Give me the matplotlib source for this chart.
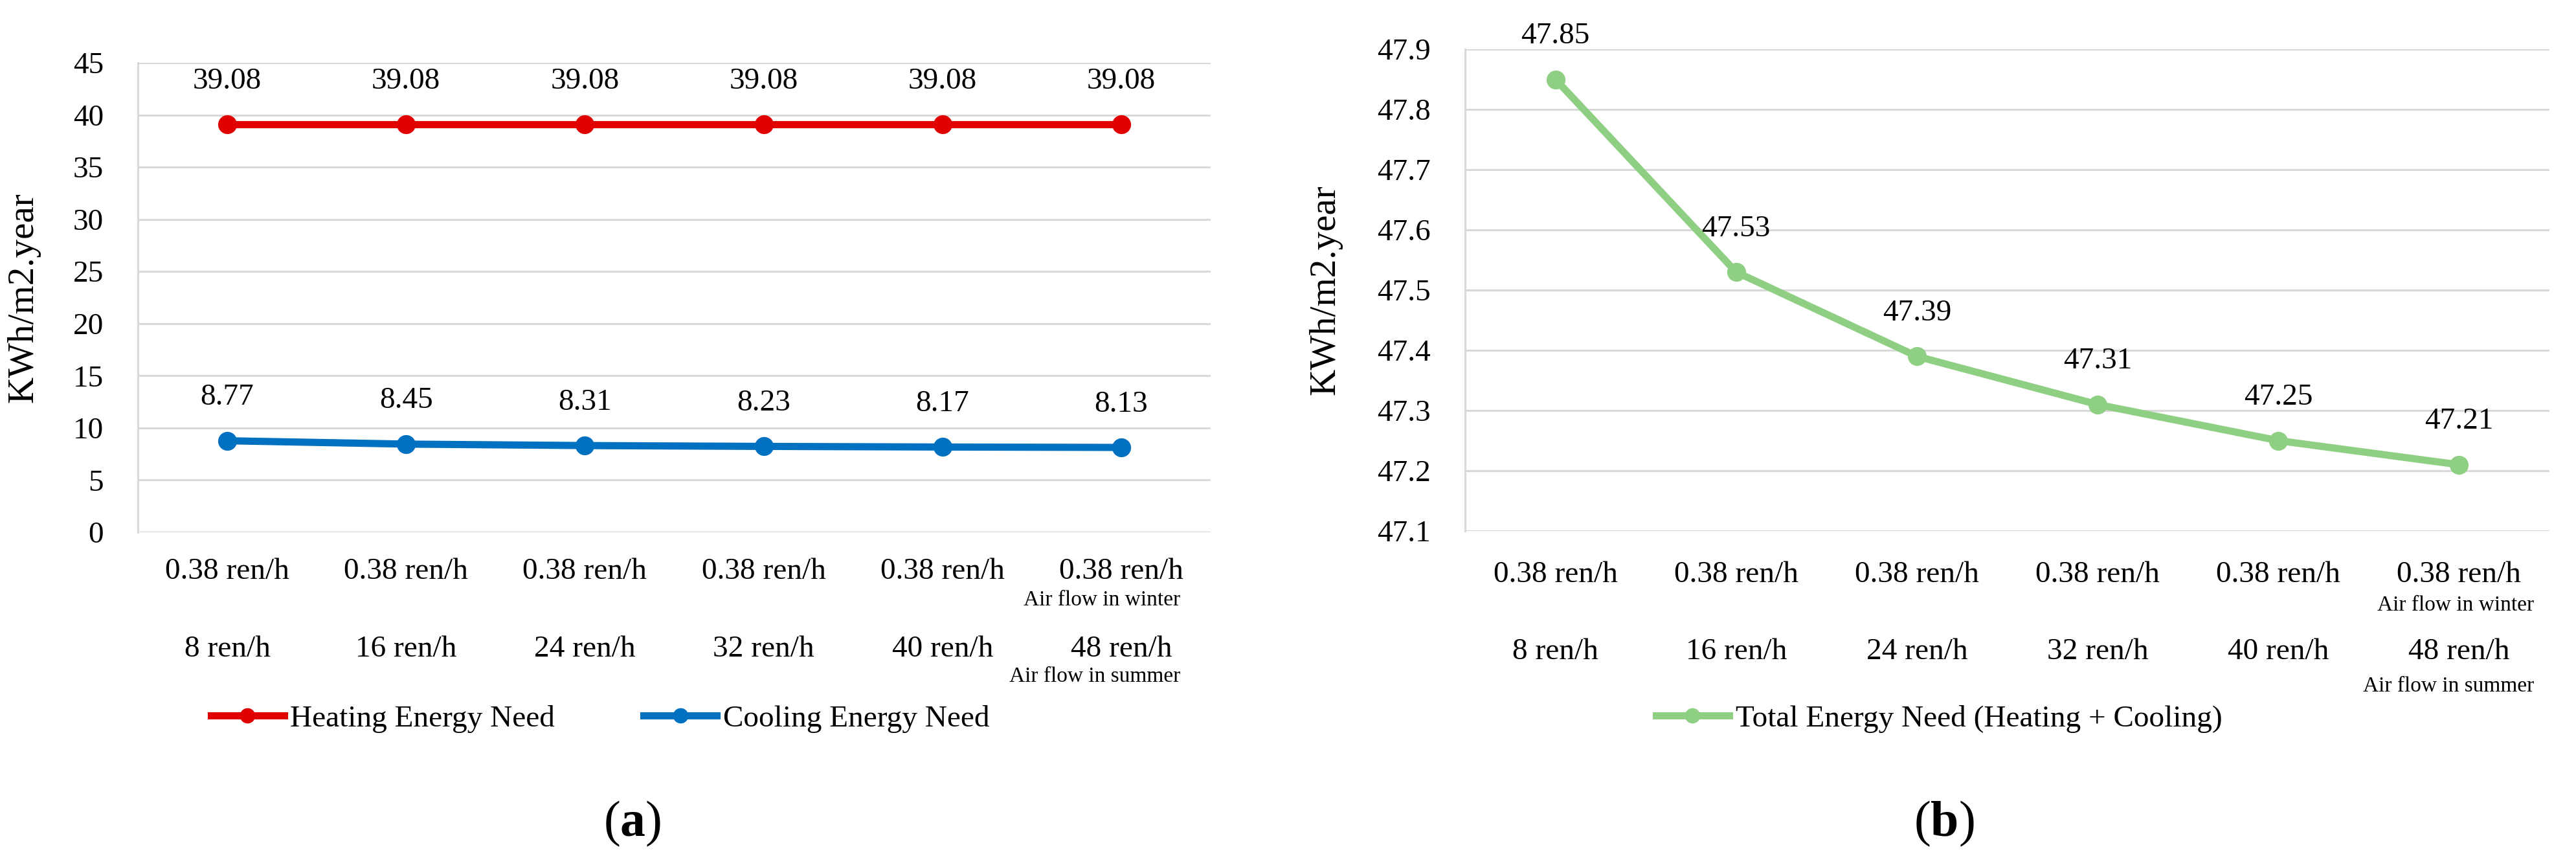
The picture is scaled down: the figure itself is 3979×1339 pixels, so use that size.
import matplotlib
matplotlib.use("Agg")
import matplotlib.pyplot as plt
import matplotlib.transforms as mtransforms
import numpy as np

winter_flow = ["0.38 ren/h"] * 6
summer_flow = ["8 ren/h", "16 ren/h", "24 ren/h", "32 ren/h", "40 ren/h", "48 ren/h"]
heating = [39.08, 39.08, 39.08, 39.08, 39.08, 39.08]
cooling = [8.77, 8.45, 8.31, 8.23, 8.17, 8.13]
total = [47.85, 47.53, 47.39, 47.31, 47.25, 47.21]

plt.rcParams['font.family'] = ['Liberation Serif', 'DejaVu Serif']
plt.rcParams['mathtext.fontset'] = 'custom'
plt.rcParams['mathtext.rm'] = 'Liberation Serif'
plt.rcParams['mathtext.bf'] = 'Liberation Serif:bold'

W, H = 3979, 1339
fig = plt.figure(figsize=(W / 100, H / 100), dpi=100)

RED = "#E00000"
BLUE = "#0070C0"
GREEN = "#8FCF83"
GRID = "#D9D9D9"
FS = 34
FS_SMALL = 24

def px(x0, y0, x1, y1):
    return [x0 / W, 1 - y1 / H, (x1 - x0) / W, (y1 - y0) / H]

def style(ax, ylim, yticks, fmt):
    ax.set_xlim(-0.5, 5.5)
    ax.set_ylim(*ylim)
    ax.set_yticks(yticks)
    ax.set_yticklabels([fmt.format(v) for v in yticks], fontsize=FS)
    ax.yaxis.grid(True, color=GRID, linewidth=2.2)
    ax.set_axisbelow(True)
    for s in ["top", "right", "bottom"]:
        ax.spines[s].set_visible(False)
    ax.spines["left"].set_color(GRID)
    ax.spines["left"].set_linewidth(2.2)
    ax.tick_params(axis="both", length=0, pad=38)
    ax.set_xticks([])

def xlabels(ax, y_row1, y_row2, y_w, y_s, x_note):
    tr = mtransforms.blended_transform_factory(ax.transData, fig.transFigure)
    idx = np.arange(len(winter_flow))
    for i in idx:
        ax.text(i, 1 - y_row1 / H, winter_flow[i], transform=tr, ha="center", va="center", fontsize=FS)
        ax.text(i, 1 - y_row2 / H, summer_flow[i], transform=tr, ha="center", va="center", fontsize=FS)
    tr2 = mtransforms.blended_transform_factory(ax.transAxes, fig.transFigure)
    ax.text(x_note, 1 - y_w / H, "Air flow in winter", transform=tr2, ha="right", va="center", fontsize=FS_SMALL)
    ax.text(x_note, 1 - y_s / H, "Air flow in summer", transform=tr2, ha="right", va="center", fontsize=FS_SMALL)

def labels(ax, xs, ys, fmt="{:.2f}"):
    for x, y in zip(xs, ys):
        ax.annotate(fmt.format(y), (x, y), xytext=(0, 48), textcoords="offset points",
                    ha="center", va="center", fontsize=FS)

x = np.arange(len(summer_flow))

# Panel (a)
ax1 = fig.add_axes(px(213, 97, 1870, 822))
style(ax1, (0, 45), np.arange(0, 46, 5), "{:g}")
ax1.plot(x, heating, color=RED, lw=8, marker="o", ms=20, label="Heating Energy Need")
ax1.plot(x, cooling, color=BLUE, lw=8, marker="o", ms=20, label="Cooling Energy Need")
labels(ax1, x, heating)
labels(ax1, x, cooling)
ax1.set_ylabel("KWh/m2.year", fontsize=41)
ax1.yaxis.set_label_coords((62 - 213) / (1870 - 213), 0.5)
xlabels(ax1, 883, 1003, 927, 1045, 0.972)
fig.legend(handles=ax1.get_lines(), loc="center", bbox_to_anchor=(927 / W, 1 - 1110 / H),
           ncol=2, frameon=False, fontsize=FS, handlelength=2.4, handletextpad=0.2,
           columnspacing=2.9, markerscale=0.8)
fig.text(977 / W, 1 - 1272 / H, r"($\mathbf{a}$)", fontsize=56, ha="center", va="center")

# Panel (b)
ax2 = fig.add_axes(px(2263, 76, 3938, 820))
yt = np.round(np.arange(47.1, 47.91, 0.1), 1)
style(ax2, (47.1, 47.9), yt, "{:.1f}")
ax2.plot(x, total, color=GREEN, lw=8, marker="o", ms=20, label="Total Energy Need (Heating + Cooling)")
labels(ax2, x, total)
ax2.set_ylabel("KWh/m2.year", fontsize=41)
ax2.yaxis.set_label_coords((2073 - 2263) / (3938 - 2263), 0.5)
xlabels(ax2, 888, 1007, 935, 1060, 0.986)
fig.legend(handles=ax2.get_lines(), loc="center", bbox_to_anchor=(2995 / W, 1 - 1110 / H),
           ncol=1, frameon=False, fontsize=FS, handlelength=2.4, handletextpad=0.2, markerscale=0.8)
fig.text(3003 / W, 1 - 1272 / H, r"($\mathbf{b}$)", fontsize=56, ha="center", va="center")

fig.savefig("out.png", dpi=100)
